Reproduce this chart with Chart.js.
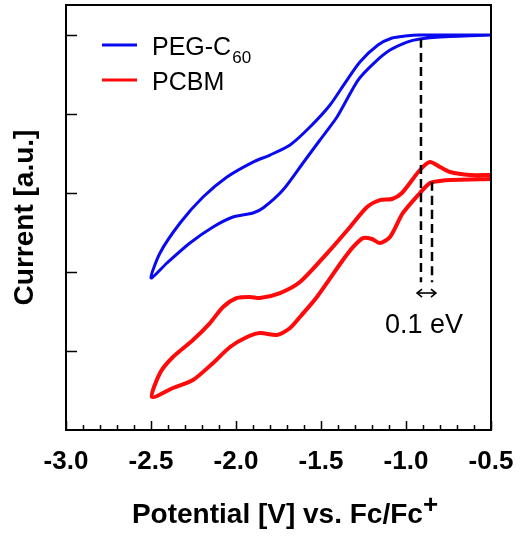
<!DOCTYPE html>
<html>
<head>
<meta charset="utf-8">
<script src="https://cdn.jsdelivr.net/npm/chart.js@4.4.1/dist/chart.umd.min.js"></script>
<style>
  html, body { margin: 0; padding: 0; background: #fff; }
  #wrap { width: 522px; height: 538px; }
</style>
</head>
<body>
<div id="wrap"><canvas id="cvChart" width="522" height="538"></canvas></div>
<script>
// PEG-C60 loop: outer branch from -0.5 V to the vertex, then inner branch back
const pegX = [-0.5, -0.918, -1.006, -1.082, -1.165, -1.271, -1.359, -1.447, -1.565, -1.682, -1.800, -1.900, -2.053, -2.194, -2.329, -2.447, -2.5,
              -2.406, -2.271, -2.135, -2.018, -1.900, -1.841, -1.724, -1.606, -1.506, -1.406, -1.282, -1.182, -1.094, -0.994, -0.918, -0.800, -0.5];
const pegY = [5.000, 5.000, 4.987, 4.962, 4.873, 4.658, 4.392, 4.114, 3.835, 3.608, 3.481, 3.392, 3.203, 2.949, 2.620, 2.241, 1.924,
              2.114, 2.367, 2.570, 2.696, 2.747, 2.810, 3.038, 3.380, 3.671, 3.962, 4.430, 4.658, 4.810, 4.911, 4.949, 4.975, 5.000];

// PCBM loop
const pcbmX = [-0.5, -0.624, -0.741, -0.800, -0.859, -0.918, -1.024, -1.082, -1.153, -1.229, -1.329, -1.447, -1.624, -1.741, -1.859, -1.918, -1.994, -2.076, -2.153, -2.253, -2.371, -2.447, -2.494,
               -2.371, -2.253, -2.135, -2.035, -1.935, -1.859, -1.759, -1.682, -1.624, -1.524, -1.371, -1.312, -1.253, -1.200, -1.153, -1.094, -1.018, -0.918, -0.859, -0.800, -0.741, -0.5];
const pcbmY = [3.228, 3.228, 3.266, 3.329, 3.392, 3.291, 3.000, 2.924, 2.911, 2.823, 2.570, 2.278, 1.873, 1.734, 1.671, 1.684, 1.671, 1.557, 1.354, 1.139, 0.924, 0.722, 0.418,
               0.532, 0.633, 0.848, 1.051, 1.177, 1.228, 1.203, 1.291, 1.430, 1.684, 2.152, 2.316, 2.430, 2.418, 2.367, 2.443, 2.747, 3.000, 3.127, 3.152, 3.165, 3.177];

// onset markers (dashed) and the 0.1 eV arrow
const onsetPegX = [-0.912, -0.912];
const onsetPegY = [4.95, 1.87];
const onsetPcbmX = [-0.847, -0.847];
const onsetPcbmY = [3.14, 1.87];
const arrowX = [-0.935, -0.824];
const arrowY = [1.734, 1.734];
const gapLabel = '0.1 eV';
const gapLabelX = -0.894;
const gapLabelY = 1.23;

// axes
const xMin = -3.0, xMax = -0.5;
const yMin = 0, yMax = 5.38;
const xMajorTicks = [-3.0, -2.5, -2.0, -1.5, -1.0, -0.5];
const xMinorTicks = [-2.9, -2.8, -2.7, -2.6, -2.4, -2.3, -2.2, -2.1, -1.9, -1.8, -1.7, -1.6, -1.4, -1.3, -1.2, -1.1, -0.9, -0.8, -0.7, -0.6];
const yTicks = [1, 2, 3, 4, 5];

const seriesNames = ['PEG-C', 'PCBM'];
const seriesSubs = ['60', ''];
const seriesColors = ['#0a0af0', '#ff0a0a'];

const FONT = "'Liberation Sans', Arial, sans-serif";

const toPoints = (xs, ys) => xs.map((x, i) => ({ x: x, y: ys[i] }));

// frame, inward ticks, legend, x title and the gap label
const decorations = {
    id: 'decorations',
    afterDraw(chart) {
        const { ctx, chartArea: a, scales: { x, y } } = chart;
        ctx.save();
        ctx.strokeStyle = '#000';
        ctx.lineWidth = 2;
        ctx.strokeRect(a.left, a.top, a.right - a.left, a.bottom - a.top);

        ctx.lineWidth = 1.5;
        ctx.beginPath();
        xMajorTicks.forEach(v => {
            const px = Math.round(x.getPixelForValue(v)) + 0.5;
            ctx.moveTo(px, a.bottom);
            ctx.lineTo(px, a.bottom - 9);
        });
        xMinorTicks.forEach(v => {
            const px = Math.round(x.getPixelForValue(v)) + 0.5;
            ctx.moveTo(px, a.bottom);
            ctx.lineTo(px, a.bottom - 5);
        });
        yTicks.forEach(v => {
            const py = Math.round(y.getPixelForValue(v)) + 0.5;
            ctx.moveTo(a.left, py);
            ctx.lineTo(a.left + 11, py);
        });
        ctx.stroke();

        // arrow heads
        const ay = y.getPixelForValue(arrowY[0]);
        const ax1 = x.getPixelForValue(arrowX[0]);
        const ax2 = x.getPixelForValue(arrowX[1]);
        ctx.lineWidth = 1.6;
        ctx.beginPath();
        ctx.moveTo(ax1 + 5, ay - 4); ctx.lineTo(ax1, ay); ctx.lineTo(ax1 + 5, ay + 4);
        ctx.moveTo(ax2 - 5, ay - 4); ctx.lineTo(ax2, ay); ctx.lineTo(ax2 - 5, ay + 4);
        ctx.stroke();

        // gap label
        ctx.fillStyle = '#000';
        ctx.font = '27px ' + FONT;
        ctx.textAlign = 'center';
        ctx.textBaseline = 'alphabetic';
        ctx.fillText(gapLabel, x.getPixelForValue(gapLabelX), y.getPixelForValue(gapLabelY));

        // legend
        ctx.textAlign = 'left';
        seriesNames.forEach((name, i) => {
            const rowY = 45 + i * 35;
            ctx.strokeStyle = seriesColors[i];
            ctx.lineWidth = 3;
            ctx.beginPath();
            ctx.moveTo(102, rowY);
            ctx.lineTo(137, rowY);
            ctx.stroke();
            ctx.fillStyle = '#000';
            ctx.font = '25px ' + FONT;
            ctx.fillText(name, 152, rowY + 10);
            if (seriesSubs[i]) {
                const w = ctx.measureText(name).width;
                ctx.font = '17px ' + FONT;
                ctx.fillText(seriesSubs[i], 152 + w + 1, rowY + 18);
            }
        });

        // x axis title with superscript
        const mainTitle = 'Potential [V] vs. Fc/Fc';
        ctx.font = 'bold 28px ' + FONT;
        const mw = ctx.measureText(mainTitle).width;
        ctx.font = 'bold 26px ' + FONT;
        const pw = ctx.measureText('+').width;
        const startX = 285 - (mw + pw) / 2;
        ctx.font = 'bold 28px ' + FONT;
        ctx.fillText(mainTitle, startX, 523);
        ctx.font = 'bold 26px ' + FONT;
        ctx.fillText('+', startX + mw, 513);
        ctx.restore();
    }
};

const lineSet = (data, color, width, dash) => ({
    data: data,
    showLine: true,
    borderColor: color,
    borderWidth: width,
    borderDash: dash || [],
    pointRadius: 0,
    fill: false,
    tension: 0.25
});

const ctx = document.getElementById('cvChart').getContext('2d');
new Chart(ctx, {
    type: 'scatter',
    data: {
        datasets: [
            lineSet(toPoints(onsetPegX, onsetPegY), '#000', 2.5, [9, 5]),
            lineSet(toPoints(onsetPcbmX, onsetPcbmY), '#000', 2.5, [9, 5]),
            lineSet(toPoints(arrowX, arrowY), '#000', 1.6),
            lineSet(toPoints(pegX, pegY), seriesColors[0], 3),
            lineSet(toPoints(pcbmX, pcbmY), seriesColors[1], 4)
        ]
    },
    options: {
        responsive: false,
        animation: false,
        devicePixelRatio: 1,
        layout: { padding: { top: 5, right: 31, left: 0, bottom: 0 } },
        plugins: {
            legend: { display: false },
            tooltip: { enabled: false }
        },
        scales: {
            x: {
                type: 'linear',
                min: xMin,
                max: xMax,
                afterFit: s => { s.height = 108; s.paddingLeft = 0; s.paddingRight = 0; },
                afterBuildTicks: s => { s.ticks = xMajorTicks.map(v => ({ value: v })); },
                grid: { display: false, drawTicks: false },
                border: { display: false },
                ticks: {
                    padding: 16,
                    color: '#000',
                    font: { family: FONT, size: 26, weight: 'bold' },
                    callback: v => v.toFixed(1)
                }
            },
            y: {
                type: 'linear',
                min: yMin,
                max: yMax,
                afterFit: s => { s.width = 66; },
                grid: { display: false, drawTicks: false },
                border: { display: false },
                ticks: { display: false },
                title: {
                    display: true,
                    text: 'Current [a.u.]',
                    color: '#000',
                    padding: { top: 8, bottom: 0 },
                    font: { family: FONT, size: 28, weight: 'bold' }
                }
            }
        }
    },
    plugins: [decorations]
});
</script>
</body>
</html>
